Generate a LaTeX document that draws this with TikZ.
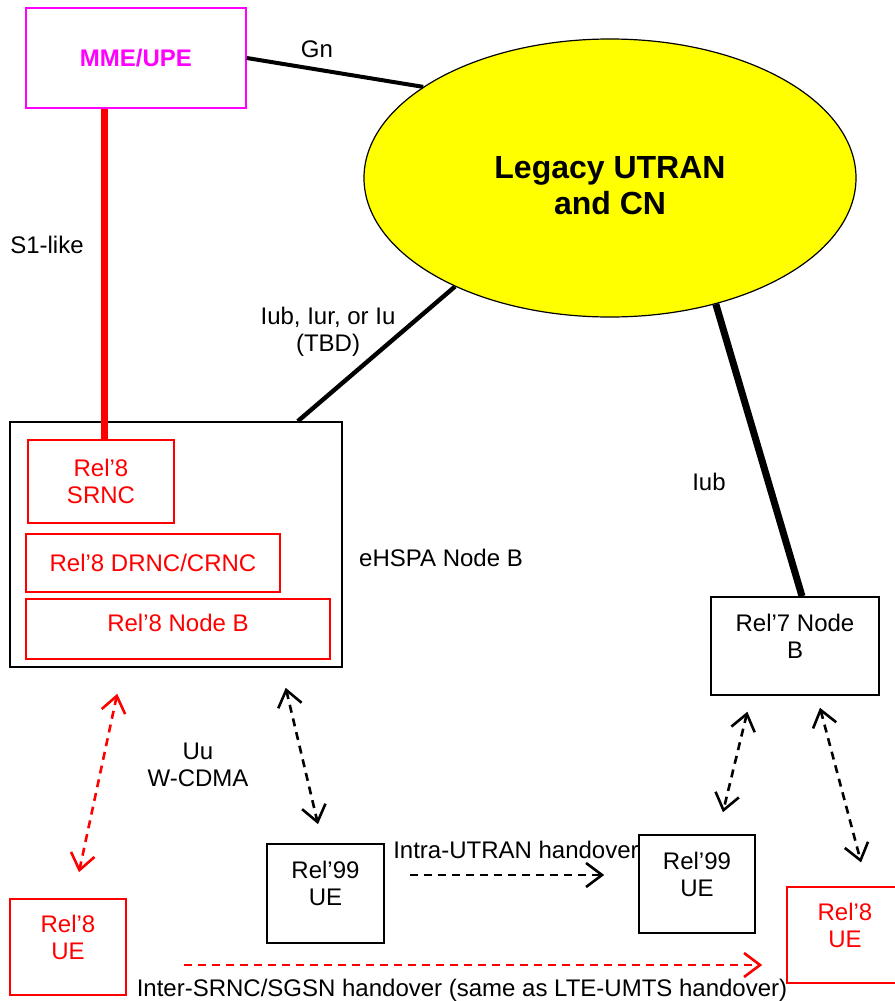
\documentclass[tikz,border=0pt]{standalone}
\usepackage{fontspec}
\setmainfont{Liberation Sans}
\usetikzlibrary{arrows.meta,shapes.geometric}
\definecolor{mmepink}{RGB}{255,0,255}
\definecolor{relred}{RGB}{255,0,0}
\definecolor{cnyellow}{RGB}{255,255,0}

\begin{document}
\begin{tikzpicture}[x=0.5pt,y=-0.5pt,>={Straight Barb[length=8pt,width=12pt]},
    font=\fontsize{12}{13.5}\selectfont,
    box/.style={draw,line width=0.8pt,inner sep=0pt,align=center},
    redbox/.style={box,draw=relred,text=relred},
    raised/.style={text depth=10pt},
    radiolink/.style={line width=1.3pt,dash pattern=on 4pt off 3pt},
    radio/.style={radiolink,<->},
    handover/.style={radiolink,->}]
    \useasboundingbox (0,0) rectangle (894,1001);

    % core network
    \node[box,draw=mmepink,text=mmepink,font=\fontsize{12}{13.5}\selectfont\bfseries,
          minimum width=110pt,minimum height=50pt] (mme) at (136,58) {MME/UPE};
    \node[ellipse,draw,fill=cnyellow,line width=0.6pt,inner sep=0pt,align=center,
          minimum width=246pt,minimum height=139pt,text height=36.5pt,
          font=\fontsize{16}{18}\selectfont\bfseries] (legacy) at (610,178) {Legacy UTRAN\\and CN};

    % eHSPA Node B
    \node[box,minimum width=166pt,minimum height=122.5pt] (ehspa) at (176,544.5) {};
    \node[redbox,minimum width=73pt,minimum height=41.5pt]  (srnc)   at (101,481.5) {Rel'8\\SRNC};
    \node[redbox,minimum width=127pt,minimum height=29pt]   (drnc)   at (153,563)   {Rel'8 DRNC/CRNC};
    \node[redbox,text depth=6pt,minimum width=152pt,minimum height=30pt] (nodeb8) at (178,629) {Rel'8 Node B};
    \node[box,raised,minimum width=84pt,minimum height=49pt] (rel7) at (795,646) {Rel'7 Node\\B};

    % user equipment
    \node[box,raised,minimum width=58.5pt,minimum height=49.5pt] (ue99a) at (325.5,893.5) {Rel'99\\UE};
    \node[box,raised,minimum width=58pt,minimum height=49pt]     (ue99b) at (697,884)     {Rel'99\\UE};
    \node[redbox,raised,minimum width=58pt,minimum height=48pt]  (ue8a)  at (68,947)      {Rel'8\\UE};
    \node[redbox,raised,minimum width=58pt,minimum height=48pt]  (ue8b)  at (845,935)     {Rel'8\\UE};

    % interface labels
    \node              (gn)       at (317,49)  {Gn};
    \node              (s1like)   at (47,245)  {S1-like};
    \node[align=center] (iubiur)  at (328,332) {Iub, Iur, or Iu\\(TBD)};
    \node              (iub)      at (709,482) {Iub};
    \node              (ehspalbl) at (441,558) {eHSPA Node B};
    \node[align=center] (uu)      at (198,765) {Uu\\W-CDMA};
    \node              (intra)    at (516,850) {Intra-UTRAN handover};
    \node              (inter)    at (462,990) {Inter-SRNC/SGSN handover (same as LTE-UMTS handover)};

    % wired interfaces
    \draw[line width=2pt] (mme.east) -- (legacy.154);
    \draw[relred,line width=3.7pt] ([xshift=39.5pt]mme.south west) coordinate (s1top) -- (s1top |- srnc.north);
    \draw[line width=2.2pt] (legacy.215) -- ([xshift=-22.5pt]ehspa.north east);
    \draw[line width=3.5pt] (legacy.310) -- ([xshift=3.5pt]rel7.north);

    % radio links
    \draw[radio,relred,shorten <=13.3pt,shorten >=13.3pt] ([xshift=56.8pt]ehspa.south west) -- ([xshift=2.7pt]ue8a.north);
    \draw[radio,shorten <=10.3pt,shorten >=9.8pt] ([xshift=-30.9pt]ehspa.south east) -- ([xshift=-1.5pt]ue99a.north);
    \draw[radio,shorten <=8.2pt,shorten >=11.3pt] ([xshift=20.5pt]rel7.south west) -- ([xshift=10.3pt]ue99b.north);
    \draw[radio,shorten <=6.2pt,shorten >=12.3pt] ([xshift=-31.5pt]rel7.south east) -- ([xshift=11.2pt]ue8b.north);

    % handovers
    \draw[handover,shorten <=12.5pt,shorten >=17pt] ([yshift=9.25pt]ue99a.east) coordinate (ho1) -- (ho1 -| ue99b.west);
    \draw[handover,relred,shorten <=28.5pt,shorten >=12pt] ([yshift=-9pt]ue8a.east) coordinate (ho2) -- (ho2 -| ue8b.west);
\end{tikzpicture}
\end{document}
